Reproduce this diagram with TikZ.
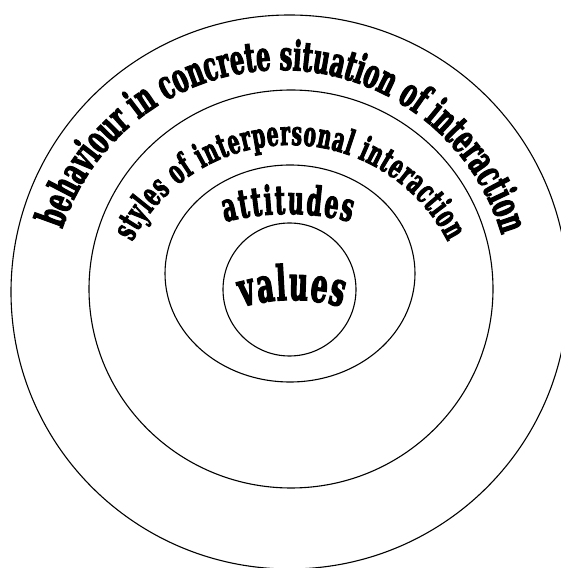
\documentclass[tikz,border=0pt]{standalone}
\usepackage{fontspec}
\newfontfamily\arcfont[FakeStretch=0.55,FakeBold=2.5]{DejaVu Serif Bold}
\usetikzlibrary{decorations.text}
\begin{document}
\begin{tikzpicture}[x=1pt,y=1pt,
  ring/.style={draw, line width=1.1pt},
  arctext/.style={decorate, decoration={text along path, text align={fit to path}, text={#1}}}]
\useasboundingbox (0,0) rectangle (560,568);
% rings
\draw[ring] (289.5,276) ellipse [x radius=278.5pt, y radius=277pt];
\draw[ring] (291,279) ellipse [x radius=202pt, y radius=199pt];
\draw[ring] (290,294.5) ellipse [x radius=125pt, y radius=108.5pt];
\draw[ring] (289.5,278.5) circle [radius=66.5pt];
% arc centres
\coordinate (cB) at (281,268);
\coordinate (cS) at (290,246);
\coordinate (cA) at (288,102);
\coordinate (cV) at (292,88);
% texts
\path[arctext={|\arcfont\fontsize{41pt}{41pt}\selectfont|behaviour in concrete situation of interaction}]
  ([shift={(162:230pt)}]cB) arc[start angle=162, end angle=16.5, radius=230pt];
\path[arctext={|\arcfont\fontsize{34pt}{34pt}\selectfont|styles of interpersonal interaction}]
  ([shift={(153:177pt)}]cS) arc[start angle=153, end angle=27, radius=177pt];
\path[arctext={|\arcfont\fontsize{40pt}{40pt}\selectfont|attitudes}]
  ([shift={(104.5:252pt)}]cA) arc[start angle=104.5, end angle=75.6, radius=252pt];
\path[arctext={|\arcfont\fontsize{48pt}{48pt}\selectfont|values}]
  ([shift={(106:180pt)}]cV) arc[start angle=106, end angle=74, radius=180pt];
\end{tikzpicture}
\end{document}
